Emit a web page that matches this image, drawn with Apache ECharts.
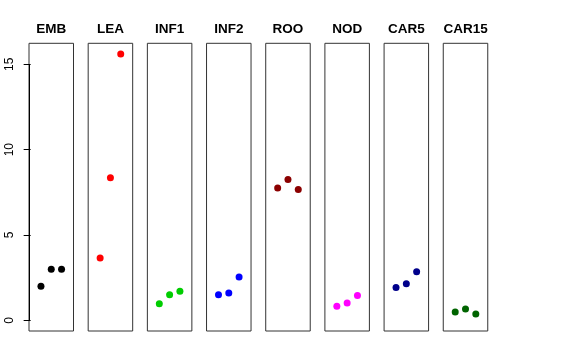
<!DOCTYPE html>
<html><head><meta charset="utf-8">
<script src="https://cdn.jsdelivr.net/npm/echarts@6/dist/echarts.min.js"></script>
<style>html,body{margin:0;padding:0;background:#fff}#c{width:576px;height:360px}</style>
</head><body><div id="c"></div>
<script>
const panels = ["EMB","LEA","INF1","INF2","ROO","NOD","CAR5","CAR15"];
const colors = ["#000000","#FF0000","#00CD00","#0000FF","#8B0000","#FF00FF","#00008B","#006400"];
const xPos = [1, 2, 3];
const EMB = [2.0, 3.0, 3.0];
const LEA = [3.65, 8.35, 15.61];
const INF1 = [0.97, 1.50, 1.70];
const INF2 = [1.50, 1.60, 2.54];
const ROO = [7.75, 8.26, 7.67];
const NOD = [0.82, 1.01, 1.46];
const CAR5 = [1.93, 2.14, 2.85];
const CAR15 = [0.49, 0.66, 0.37];
const yTicks = [0, 5, 10, 15];
const values = [EMB, LEA, INF1, INF2, ROO, NOD, CAR5, CAR15];

const yMin = -0.624, yMax = 16.234, xMin = -0.16, xMax = 4.16;
const gLeft0 = 29, gPitch = 59.18, gW = 44.5, gTop = 43.3, gH = 287.7;

const grids = [], xAxes = [], yAxes = [], series = [], titles = [];
panels.forEach((p, i) => {
  const l = gLeft0 + i * gPitch;
  grids.push({left: l, top: gTop, width: gW, height: gH, show: true, borderColor: '#333', borderWidth: 1, backgroundColor: 'transparent'});
  xAxes.push({gridIndex: i, type: 'value', min: xMin, max: xMax, show: false});
  yAxes.push({
    gridIndex: i, type: 'value', min: yMin, max: yMax,
    show: i === 0,
    splitLine: {show: false},
    axisLine: {show: false},
    axisTick: {show: true, length: 7, inside: false, lineStyle: {color: '#000'}, customValues: yTicks},
    axisLabel: {show: true, rotate: 90, margin: 13, fontSize: 12, color: '#000', fontFamily: 'Liberation Sans', customValues: yTicks, showMinLabel: true, showMaxLabel: true}
  });
  const s = {
    type: 'scatter', xAxisIndex: i, yAxisIndex: i,
    data: xPos.map((x, k) => [x, values[i][k]]),
    symbol: 'circle', symbolSize: 7,
    itemStyle: {color: colors[i], opacity: 1},
    silent: true, animation: false
  };
  if (i === 0) {
    s.markLine = {
      silent: true, symbol: 'none', animation: false,
      lineStyle: {color: '#000', width: 1, type: 'solid', opacity: 1},
      label: {show: false},
      data: [[{coord: [xMin, yTicks[0]]}, {coord: [xMin, yTicks[yTicks.length - 1]]}]]
    };
  }
  series.push(s);
  titles.push({text: p, left: l + gW / 2, top: 22, textAlign: 'center', padding: 0,
    textStyle: {fontSize: 13.5, fontWeight: 'bold', color: '#000', fontFamily: 'Liberation Sans'}});
});

const chart = echarts.init(document.getElementById('c'), null, {renderer: 'canvas'});
chart.setOption({animation: false, backgroundColor: '#fff', title: titles, grid: grids, xAxis: xAxes, yAxis: yAxes, series: series});
</script></body></html>
